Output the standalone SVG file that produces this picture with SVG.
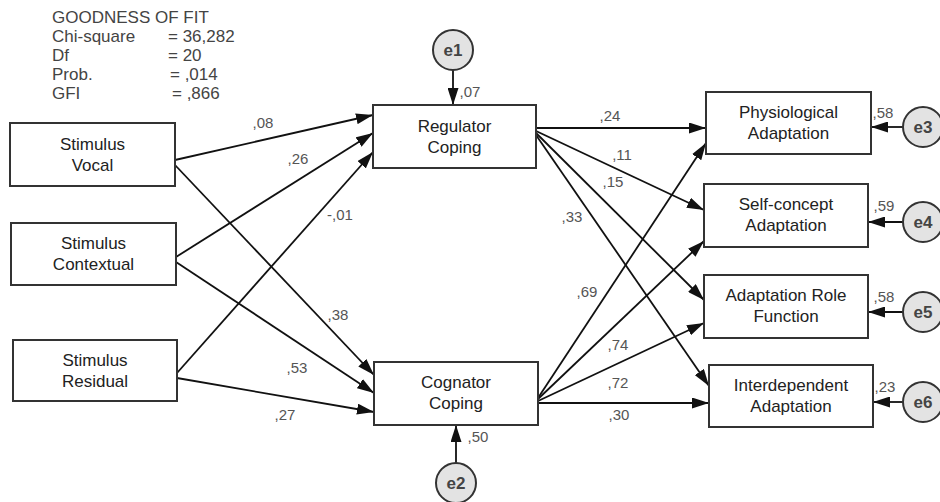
<svg xmlns="http://www.w3.org/2000/svg" width="940" height="502" viewBox="0 0 940 502">
<defs>
<marker id="ah" markerWidth="17" markerHeight="11" refX="17" refY="5.5" orient="auto" markerUnits="userSpaceOnUse">
<path d="M0,0 L17,5.5 L0,11 z" fill="#111"/>
</marker>
<style>
.box{fill:#fff;stroke:#333;stroke-width:2}
.err{fill:#e3e3e3;stroke:#333;stroke-width:2}
.nt{font-family:"Liberation Sans",Arial,sans-serif;font-size:17px;fill:#222;text-anchor:middle}
.et{font-family:"Liberation Sans",Arial,sans-serif;font-size:17px;font-weight:bold;fill:#444;text-anchor:middle}
.lb{font-family:"Liberation Sans",Arial,sans-serif;font-size:15px;fill:#555;text-anchor:middle}
.gf{font-family:"Liberation Sans",Arial,sans-serif;font-size:17px;fill:#444}
.ln{fill:none;stroke:#111;stroke-width:1.8;marker-end:url(#ah)}
</style>
</defs>
<rect width="940" height="502" fill="#fff"/>

<g id="fit">
<text class="gf" x="52" y="23">GOODNESS OF FIT</text>
<text class="gf" x="52" y="42">Chi-square</text><text class="gf" x="168" y="42">= 36,282</text>
<text class="gf" x="52" y="61">Df</text><text class="gf" x="168" y="61">= 20</text>
<text class="gf" x="52" y="80">Prob.</text><text class="gf" x="170" y="80">= ,014</text>
<text class="gf" x="52" y="99">GFI</text><text class="gf" x="172" y="99">= ,866</text>
</g>

<g id="connectors">
<line class="ln" x1="175" y1="160" x2="373" y2="115"/>
<line class="ln" x1="175" y1="165" x2="374" y2="375"/>
<line class="ln" x1="176" y1="257" x2="373" y2="133"/>
<line class="ln" x1="176" y1="262" x2="374" y2="393"/>
<line class="ln" x1="177" y1="373" x2="373" y2="152"/>
<line class="ln" x1="177" y1="378" x2="374" y2="412"/>
<line class="ln" x1="536" y1="128" x2="706" y2="128"/>
<line class="ln" x1="536" y1="131" x2="704" y2="210"/>
<line class="ln" x1="536" y1="133" x2="704" y2="300"/>
<line class="ln" x1="536" y1="135" x2="709" y2="386"/>
<line class="ln" x1="538" y1="398" x2="706" y2="143"/>
<line class="ln" x1="538" y1="399" x2="704" y2="241"/>
<line class="ln" x1="538" y1="401" x2="704" y2="323"/>
<line class="ln" x1="538" y1="403" x2="709" y2="403"/>
<line class="ln" x1="453" y1="70" x2="453" y2="105"/>
<line class="ln" x1="456" y1="463" x2="456" y2="425"/>
<line class="ln" x1="903" y1="127" x2="871" y2="127"/>
<line class="ln" x1="903" y1="222" x2="868" y2="222"/>
<line class="ln" x1="903" y1="312" x2="868" y2="312"/>
<line class="ln" x1="903" y1="402" x2="873" y2="402"/>
<text class="lb" x="263" y="128">,08</text>
<text class="lb" x="298" y="164">,26</text>
<text class="lb" x="340" y="220">-,01</text>
<text class="lb" x="338" y="320">,38</text>
<text class="lb" x="297" y="373">,53</text>
<text class="lb" x="285" y="420">,27</text>
<text class="lb" x="470" y="97">,07</text>
<text class="lb" x="478" y="442">,50</text>
<text class="lb" x="610" y="121">,24</text>
<text class="lb" x="622" y="160">,11</text>
<text class="lb" x="613" y="187">,15</text>
<text class="lb" x="572" y="222">,33</text>
<text class="lb" x="587" y="297">,69</text>
<text class="lb" x="618" y="350">,74</text>
<text class="lb" x="618" y="388">,72</text>
<text class="lb" x="619" y="420">,30</text>
<text class="lb" x="883" y="118">,58</text>
<text class="lb" x="884" y="211">,59</text>
<text class="lb" x="884" y="302">,58</text>
<text class="lb" x="885" y="392">,23</text>
</g>

<g id="vocal"><rect class="box" x="10" y="123" width="165" height="63"/><text class="nt" x="92.5" y="149.5">Stimulus</text><text class="nt" x="92.5" y="170.5">Vocal</text></g>
<g id="contextual"><rect class="box" x="11" y="223" width="165" height="62"/><text class="nt" x="93.5" y="249">Stimulus</text><text class="nt" x="93.5" y="270">Contextual</text></g>
<g id="residual"><rect class="box" x="13" y="340" width="164" height="61"/><text class="nt" x="95" y="365.5">Stimulus</text><text class="nt" x="95" y="386.5">Residual</text></g>
<g id="regulator"><rect class="box" x="373" y="105" width="163" height="63"/><text class="nt" x="454.5" y="131.5">Regulator</text><text class="nt" x="454.5" y="152.5">Coping</text></g>
<g id="cognator"><rect class="box" x="374" y="362" width="164" height="63"/><text class="nt" x="456" y="388">Cognator</text><text class="nt" x="456" y="409">Coping</text></g>
<g id="physiological"><rect class="box" x="706" y="92" width="165" height="62"/><text class="nt" x="788.5" y="118">Physiological</text><text class="nt" x="788.5" y="139">Adaptation</text></g>
<g id="selfconcept"><rect class="box" x="704" y="184" width="164" height="63"/><text class="nt" x="786" y="210">Self-concept</text><text class="nt" x="786" y="231">Adaptation</text></g>
<g id="role"><rect class="box" x="704" y="275" width="164" height="63"/><text class="nt" x="786" y="301">Adaptation Role</text><text class="nt" x="786" y="322">Function</text></g>
<g id="interdependent"><rect class="box" x="709" y="365" width="164" height="62"/><text class="nt" x="791" y="391">Interdependent</text><text class="nt" x="791" y="412">Adaptation</text></g>

<g id="e1"><circle class="err" cx="453" cy="50" r="20"/><text class="et" x="453" y="56">e1</text></g>
<g id="e2"><circle class="err" cx="456" cy="483" r="20"/><text class="et" x="456" y="489">e2</text></g>
<g id="e3"><circle class="err" cx="923" cy="127" r="20"/><text class="et" x="923" y="133">e3</text></g>
<g id="e4"><circle class="err" cx="923" cy="222" r="20"/><text class="et" x="923" y="228">e4</text></g>
<g id="e5"><circle class="err" cx="923" cy="312" r="20"/><text class="et" x="923" y="318">e5</text></g>
<g id="e6"><circle class="err" cx="923" cy="402" r="20"/><text class="et" x="923" y="408">e6</text></g>
</svg>
